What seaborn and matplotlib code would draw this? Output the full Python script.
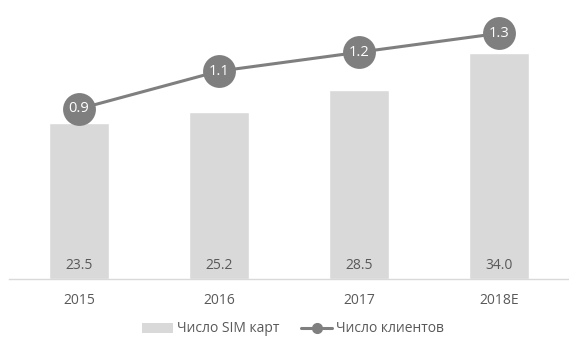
import matplotlib
matplotlib.use("Agg")
import matplotlib.pyplot as plt
import seaborn as sns
import pandas as pd
from matplotlib.patches import Patch
from matplotlib.lines import Line2D

years = ["2015", "2016", "2017", "2018E"]
sim_cards = [23.5, 25.2, 28.5, 34.0]
clients = [0.9, 1.1, 1.2, 1.3]
bar_label_name = "Число SIM карт"
line_label_name = "Число клиентов"

df = pd.DataFrame({"year": years, "sim": sim_cards, "clients": clients})

sns.set_theme(style="white")
plt.rcParams["font.family"] = ["Open Sans", "DejaVu Sans"]

BAR = "#d9d9d9"
LINE = "#7f7f7f"
TXT = "#595959"

fig = plt.figure(figsize=(5.69, 3.38), dpi=100)
ax = fig.add_axes([9 / 569, 1 - 279 / 338, 560 / 569, 274 / 338])

sns.barplot(data=df, x="year", y="sim", color=BAR, width=0.43, ax=ax,
            saturation=1, errorbar=None)
ax.set_ylim(0, 41.3)
ax.set_xlim(-0.5, 3.5)

ax2 = ax.twinx()
sns.pointplot(data=df, x="year", y="clients", color=LINE, ax=ax2,
              markers="o", markersize=22, linewidth=2.2, errorbar=None)
ax2.set_ylim(0, 1.45)
ax2.set_xlim(-0.5, 3.5)

for i, v in enumerate(sim_cards):
    ax.text(i, 2.0, f"{v:.1f}", ha="center", va="center", fontsize=10, color=TXT)
for i, v in enumerate(clients):
    ax2.text(i, v, f"{v:.1f}", ha="center", va="center", fontsize=10.5, color="white", zorder=10)

for a in (ax, ax2):
    for s in ["top", "right", "left"]:
        a.spines[s].set_visible(False)
    a.set_yticks([])
    a.set_ylabel("")
    a.set_xlabel("")
ax.spines["bottom"].set_color("#d9d9d9")
ax.spines["bottom"].set_linewidth(1)
ax2.spines["bottom"].set_visible(False)
ax.tick_params(axis="x", length=0, pad=10, labelsize=10, labelcolor=TXT)

handles = [Patch(facecolor=BAR, edgecolor="none"),
           Line2D([0], [0], color=LINE, lw=2.2, marker="o", markersize=7)]
fig.legend(handles, [bar_label_name, line_label_name], loc="center",
           bbox_to_anchor=(293 / 569, 1 - 329 / 338), ncol=2, frameon=False,
           fontsize=10, labelcolor=TXT, handlelength=2.2, handletextpad=0.3,
           columnspacing=1.6)

fig.savefig("out.png", dpi=100)
